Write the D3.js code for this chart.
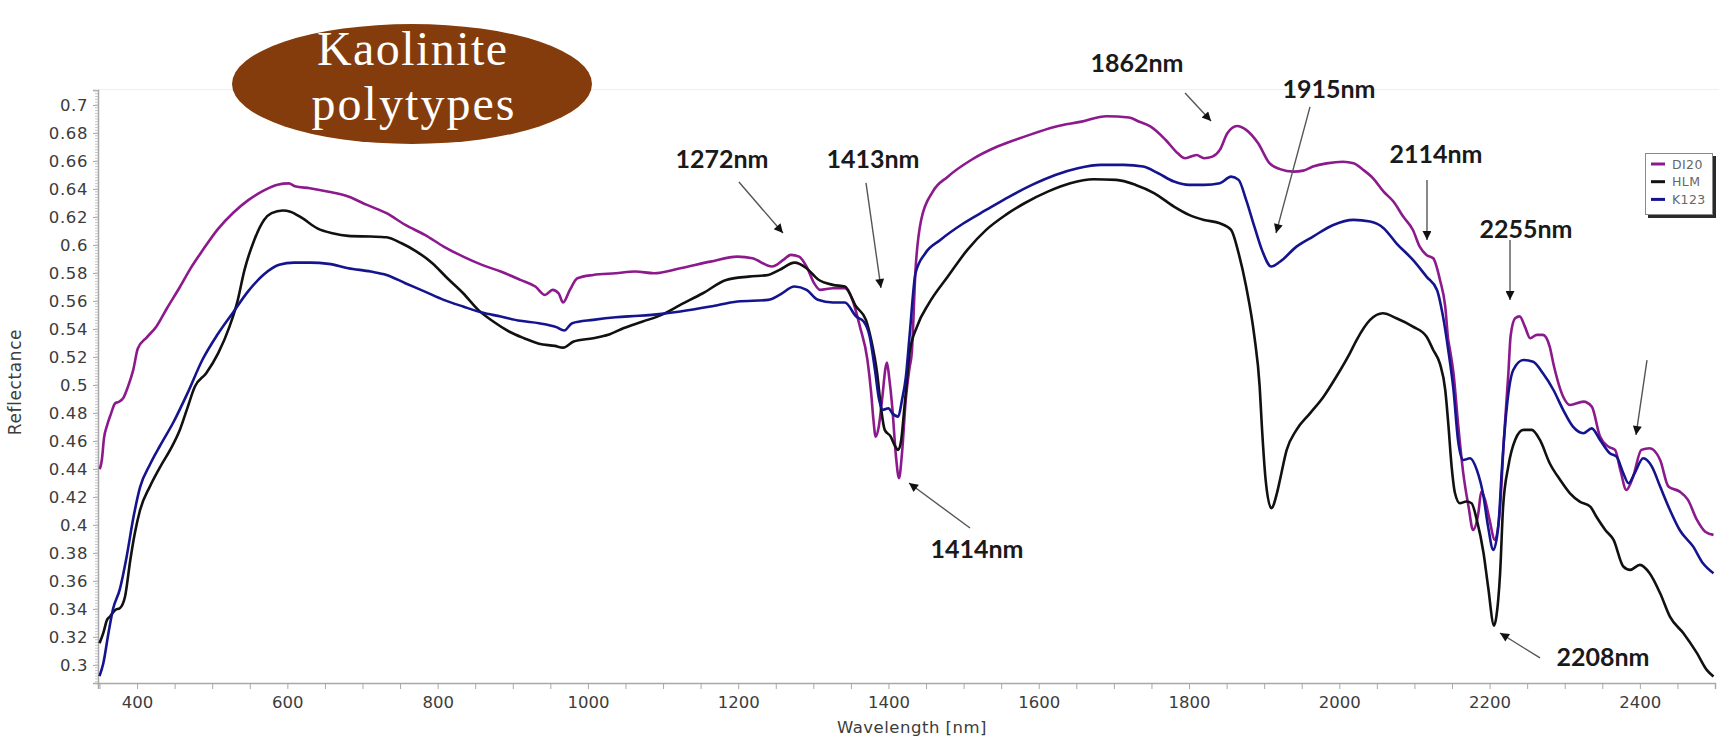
<!DOCTYPE html>
<html><head><meta charset="utf-8">
<script src="https://cdn.jsdelivr.net/npm/d3@7"></script>
<style>html,body{margin:0;padding:0;background:#fff;}svg{display:block;}</style>
</head><body>
<svg id="c" width="1719" height="739"></svg>
<script>
// ---------- DATA ----------
const seriesNames = ["DI20", "HLM", "K123"];
const seriesColors = ["#8c1a8c", "#111111", "#14148f"];

const di20Wl = [350,351,353,356,360,365,371,376,382,388,395,401,413,426,440,457,472,487,507,528,548,569,587,602,610,630,655,681,706,732,757,783,808,834,859,884,910,930,943,953,961,967,976,986,1007,1037,1063,1088,1123,1163,1199,1219,1245,1260,1270,1281,1291,1301,1309,1326,1342,1352,1362,1372,1377,1380,1383,1387,1392,1396,1398,1401,1405,1410,1414,1418,1423,1428,1431,1436,1443.5,1459,1479,1510,1545,1581,1622,1657,1690,1720,1734,1749,1769,1785,1795,1810,1820,1831,1841,1851,1864,1876,1892,1907,1921,1939,1952,1965,1983,2005,2019,2032,2045,2059,2072,2085,2098,2107,2116,2125,2134,2141,2145,2147,2152,2158,2165,2172,2178,2185,2189,2194,2200,2207,2214,2219,2225,2228,2234,2240,2247,2254,2263,2271,2280,2285,2298,2307,2325,2336,2347,2358,2367,2374,2382,2391,2402,2413,2427,2438,2453,2464,2476,2487,2498];
const di20R = [0.440,0.441,0.446,0.462,0.471,0.479,0.487,0.488,0.491,0.499,0.511,0.526,0.534,0.542,0.555,0.570,0.584,0.596,0.611,0.623,0.632,0.639,0.643,0.644,0.642,0.6405,0.638,0.6346,0.6286,0.6227,0.6143,0.6072,0.5989,0.5917,0.5858,0.581,0.5751,0.5703,0.5643,0.5679,0.5655,0.5589,0.5679,0.5762,0.5786,0.5798,0.581,0.5798,0.5834,0.5881,0.5917,0.5905,0.5846,0.5893,0.5929,0.5917,0.5846,0.5727,0.5679,0.5691,0.5691,0.5608,0.5417,0.5179,0.4941,0.475,0.463,0.470,0.492,0.512,0.516,0.505,0.4846,0.4489,0.4334,0.4512,0.4893,0.512,0.5227,0.5822,0.6179,0.6381,0.6488,0.6607,0.6703,0.6774,0.6845,0.6881,0.692,0.691,0.688,0.6845,0.675,0.6655,0.662,0.6643,0.662,0.6631,0.6679,0.6798,0.685,0.6822,0.6726,0.6584,0.6542,0.6524,0.6531,0.656,0.6583,0.6595,0.6583,0.6536,0.6476,0.6381,0.631,0.6203,0.6107,0.5988,0.5929,0.5905,0.575,0.556,0.532,0.526,0.5083,0.4726,0.4369,0.4131,0.3964,0.4083,0.4238,0.4179,0.4036,0.3893,0.4131,0.4607,0.5083,0.535,0.5477,0.549,0.5417,0.5334,0.5358,0.5358,0.5274,0.515,0.4916,0.4857,0.4881,0.4845,0.4631,0.456,0.4536,0.4393,0.425,0.4345,0.4536,0.4548,0.4464,0.4274,0.4238,0.4179,0.4036,0.3952,0.3929];

const hlmWl = [350,355,360,364,371,377,384,391,397,404,417,431,444,457,466,477,492,508,523,533,543,556,569,579,594,604,620,640,660,681,711,732,752,772,793,813,834,854,874,895,915,935,956,967,981,1007,1027,1047,1073,1098,1123,1153,1184,1214,1240,1255,1275,1291,1306,1326,1342,1357,1370,1377,1385,1390,1395,1403,1408,1413,1417,1420.5,1424,1428,1438,1454,1479,1505,1530,1556,1581,1612,1642,1673,1703,1729,1754,1780,1800,1820,1841,1856,1866,1876,1887,1894,1897,1902,1909.5,1917,1921,1930,1943,1961,1979,1996,2014,2023,2041,2058,2076,2098,2116,2125,2134,2141,2145,2149.5,2154,2160.5,2169,2176,2183,2192,2198,2206,2209,2214,2218,2225,2234,2245,2256,2267,2280,2294,2307,2320,2334,2342,2354,2365,2378,2387,2400,2413,2427,2440,2458,2476,2489,2498];
const hlmR = [0.3155,0.3227,0.3322,0.3346,0.3393,0.3405,0.3489,0.375,0.394,0.4107,0.4274,0.4417,0.4536,0.468,0.482,0.4989,0.5084,0.5227,0.5417,0.5584,0.5822,0.6036,0.6179,0.6227,0.6246,0.6238,0.6191,0.6119,0.6084,0.6065,0.606,0.6055,0.6012,0.5953,0.587,0.5762,0.5655,0.5536,0.5453,0.5382,0.5334,0.5294,0.5279,0.5267,0.531,0.5334,0.5358,0.5405,0.5453,0.5501,0.5572,0.5655,0.575,0.5774,0.5786,0.5822,0.5874,0.5834,0.5755,0.5715,0.5703,0.556,0.5465,0.5322,0.508,0.484,0.4679,0.4631,0.4572,0.4536,0.4608,0.4798,0.500,0.5227,0.5417,0.5584,0.5774,0.5965,0.6108,0.6215,0.6298,0.6381,0.6441,0.6469,0.6465,0.6429,0.6369,0.6274,0.6215,0.6179,0.6155,0.6108,0.5941,0.5703,0.5346,0.499,0.470,0.432,0.412,0.4227,0.4321,0.4536,0.4679,0.4797,0.4916,0.5059,0.5226,0.5321,0.5465,0.5512,0.5477,0.5417,0.5346,0.525,0.515,0.4964,0.4726,0.4417,0.4226,0.4155,0.4167,0.4155,0.4036,0.3798,0.356,0.328,0.3345,0.3655,0.413,0.442,0.4607,0.4679,0.4679,0.4607,0.4441,0.4321,0.4226,0.4167,0.4131,0.406,0.3964,0.3893,0.3703,0.3679,0.3715,0.3655,0.3512,0.3345,0.3226,0.3084,0.2965,0.2917];

const k123Wl = [350,355,362,368,377,386,395,404,417,431,448,467,487,507,528,548,569,589,609,630,655,681,711,732,757,783,808,834,859,884,910,935,958,968.5,979,1007,1037,1068,1098,1123,1163,1199,1240,1255,1275,1291,1306,1326,1342,1357,1367,1375,1382,1387.4,1392.5,1400,1405,1413,1418,1423,1428,1436,1449,1469,1500,1530,1561,1591,1622,1652,1683,1713,1739,1759,1780,1800,1820,1841,1856,1866,1876,1887,1897,1909.5,1921,1943,1965,1992,2019,2041,2059,2076,2098,2116,2130,2138,2145,2152,2158,2165,2174,2183,2192,2198,2205,2212,2216,2223,2231.5,2245,2258,2271,2285,2298,2311,2325,2336,2347,2360,2369,2378,2385,2393,2404.5,2416,2427,2440,2453,2471,2484,2498];
const k123R = [0.292,0.301,0.323,0.340,0.354,0.377,0.405,0.427,0.443,0.457,0.473,0.494,0.518,0.536,0.552,0.567,0.579,0.5858,0.5874,0.5874,0.5865,0.5834,0.581,0.5786,0.5727,0.5667,0.5608,0.556,0.5517,0.5489,0.5458,0.5441,0.5413,0.5389,0.5441,0.5465,0.5484,0.5494,0.5508,0.5525,0.556,0.5596,0.5608,0.5643,0.5703,0.5679,0.5608,0.5589,0.5589,0.5489,0.5453,0.5346,0.5108,0.490,0.4822,0.4834,0.4798,0.4774,0.4893,0.505,0.5346,0.5798,0.5941,0.6036,0.6155,0.625,0.6346,0.6429,0.65,0.6548,0.6572,0.6572,0.656,0.6512,0.6453,0.6429,0.6429,0.6441,0.6488,0.6465,0.6322,0.6131,0.5965,0.5846,0.588,0.5988,0.606,0.6143,0.6179,0.6167,0.612,0.6012,0.5893,0.5774,0.5679,0.549,0.525,0.4964,0.4607,0.4464,0.4476,0.4393,0.4202,0.3988,0.3822,0.4012,0.4369,0.4845,0.5107,0.5178,0.5166,0.5083,0.4964,0.4821,0.4702,0.4655,0.469,0.4607,0.4512,0.4488,0.4369,0.4298,0.4369,0.4476,0.4417,0.4274,0.4107,0.3964,0.3845,0.3726,0.3655];

const xTickValues = [400,600,800,1000,1200,1400,1600,1800,2000,2200,2400];
const yTickValues = [0.3,0.32,0.34,0.36,0.38,0.4,0.42,0.44,0.46,0.48,0.5,0.52,0.54,0.56,0.58,0.6,0.62,0.64,0.66,0.68,0.7];

// annotations: label, text position (nm, R), arrow from (nm,R) to (nm,R)
const annLabels = ["1272nm","1413nm","1414nm","1862nm","1915nm","2114nm","2255nm","2208nm",""];
const annText   = [[1178.5,0.655],[1379.4,0.655],[1517.8,0.3764],[1730.8,0.7236],[1986.3,0.705],[2128.7,0.6585],[2248.5,0.605],[2351,0.2992],null];
const annFrom   = [[1201,0.645],[1370.1,0.6443],[1508.5,0.3978],[1794.7,0.7086],[1961,0.6986],[2116.7,0.6464],[2227.2,0.6035],[2267.1,0.305],[2409.5,0.5178]];
const annTo     = [[1259.6,0.6085],[1390,0.5693],[1427.3,0.43],[1829.3,0.6885],[1915.8,0.6085],[2116.7,0.6035],[2227.2,0.5607],[2213.9,0.3228],[2394.9,0.4643]];

const titleLines = ["Kaolinite","polytypes"];
const xLabel = "Wavelength [nm]";
const yLabel = "Reflectance";

// ---------- DRAW ----------
const svg = d3.select("#c");
const x = d3.scaleLinear().domain([348, 2500]).range([98, 1715]);
const y = d3.scaleLinear().domain([0.2871, 0.7107]).range([683, 90]);

// faint top border
svg.append("line").attr("x1",98).attr("x2",1719).attr("y1",89.5).attr("y2",89.5)
  .attr("stroke","#efefef").attr("stroke-width",1);

// y axis
const yAxis = d3.axisLeft(y).tickValues(yTickValues).tickSize(5).tickFormat(d => d3.format("")(+d.toFixed(2)));
const gy = svg.append("g").attr("transform","translate(98,0)").call(yAxis);
gy.select(".domain").attr("stroke","#a8a8a8").attr("stroke-width",1.5);
gy.selectAll(".tick line").attr("stroke","#a8a8a8");
gy.selectAll(".tick text").attr("font-family","DejaVu Sans, Verdana, sans-serif").attr("font-size",16.5)
  .attr("fill","#3c3c3c").attr("letter-spacing",0.6).attr("x",-10);
// minor y ticks
const yMinor = d3.range(0.288, 0.7106, 0.002);
svg.append("g").selectAll("line").data(yMinor).join("line")
  .attr("x1",95).attr("x2",98).attr("y1",d=>y(d)).attr("y2",d=>y(d))
  .attr("stroke","#c4c4c4").attr("stroke-width",1);

// x axis
const xMinor = d3.range(350, 2501, 50);
const gx = svg.append("g").attr("transform","translate(0,683)")
  .call(d3.axisBottom(x).tickValues(xMinor).tickSize(6).tickFormat(d => xTickValues.includes(d) ? d : ""));
gx.select(".domain").attr("stroke","#a8a8a8").attr("stroke-width",1.5);
gx.selectAll(".tick line").attr("stroke","#a8a8a8");
gx.selectAll(".tick text").attr("font-family","DejaVu Sans, Verdana, sans-serif").attr("font-size",16.5)
  .attr("fill","#3c3c3c").attr("y",13);

// axis titles
svg.append("text").attr("x",912).attr("y",733).attr("text-anchor","middle")
  .attr("font-family","DejaVu Sans, Verdana, sans-serif").attr("font-size",16.5).attr("fill","#3c3c3c")
  .attr("letter-spacing",0.5).text(xLabel);
svg.append("text").attr("transform","translate(21,382) rotate(-90)").attr("text-anchor","middle")
  .attr("font-family","DejaVu Sans, Verdana, sans-serif").attr("font-size",17).attr("fill","#3c3c3c")
  .attr("letter-spacing",0.6).text(yLabel);

// lines
const line = d3.line().x(d=>x(d[0])).y(d=>y(d[1])).curve(d3.curveMonotoneX);
const series = [
  d3.zip(di20Wl, di20R),
  d3.zip(hlmWl, hlmR),
  d3.zip(k123Wl, k123R)
];
const plot = svg.append("g");
series.forEach((s,i) => {
  plot.append("path").datum(s).attr("d", line).attr("fill","none")
    .attr("stroke", seriesColors[i]).attr("stroke-width",2.6).attr("stroke-linejoin","round");
});

// annotations
const defs = svg.append("defs");
defs.append("marker").attr("id","ah").attr("viewBox","0 0 10 10").attr("refX",10).attr("refY",5)
  .attr("markerWidth",11).attr("markerHeight",9).attr("markerUnits","userSpaceOnUse").attr("orient","auto")
  .append("path").attr("d","M0,0 L10,5 L0,10 Z").attr("fill","#111");
annFrom.forEach((f,i) => {
  svg.append("line").attr("x1",x(f[0])).attr("y1",y(f[1])).attr("x2",x(annTo[i][0])).attr("y2",y(annTo[i][1]))
    .attr("stroke","#555").attr("stroke-width",1.4).attr("marker-end","url(#ah)");
  if (annText[i]) {
    svg.append("text").attr("x",x(annText[i][0])).attr("y",y(annText[i][1])).attr("text-anchor","middle")
      .attr("font-family","Lato, 'Liberation Sans', sans-serif").attr("font-weight","bold").attr("font-size",25)
      .attr("fill","#1a1a1a").text(annLabels[i]);
  }
});

// title ellipse
svg.append("ellipse").attr("cx",412).attr("cy",84).attr("rx",180).attr("ry",60).attr("fill","#843c0c");
svg.append("text").attr("x",412).attr("y",65).attr("text-anchor","middle")
  .attr("font-family","'Liberation Serif', 'DejaVu Serif', serif").attr("font-size",48).attr("fill","#ffffff")
  .attr("textLength",190).attr("lengthAdjust","spacing").text(titleLines[0]);
svg.append("text").attr("x",413).attr("y",120).attr("text-anchor","middle")
  .attr("font-family","'Liberation Serif', 'DejaVu Serif', serif").attr("font-size",48).attr("fill","#ffffff")
  .attr("textLength",203).attr("lengthAdjust","spacing").text(titleLines[1]);

// legend
const lg = svg.append("g");
lg.append("rect").attr("x",1648).attr("y",156).attr("width",68).attr("height",62).attr("fill","#2a2a2a");
lg.append("rect").attr("x",1645.5).attr("y",153.5).attr("width",67).attr("height",61).attr("fill","#fff")
  .attr("stroke","#8a8a8a").attr("stroke-width",1);
seriesNames.forEach((n,i) => {
  const yy = 164 + i*17.7;
  lg.append("line").attr("x1",1651).attr("x2",1665).attr("y1",yy).attr("y2",yy)
    .attr("stroke",seriesColors[i]).attr("stroke-width",3);
  lg.append("text").attr("x",1672).attr("y",yy+4.5).attr("font-family","DejaVu Sans, Verdana, sans-serif")
    .attr("font-size",12.5).attr("fill","#666").attr("letter-spacing",0.4).text(n);
});
</script>
</body></html>
